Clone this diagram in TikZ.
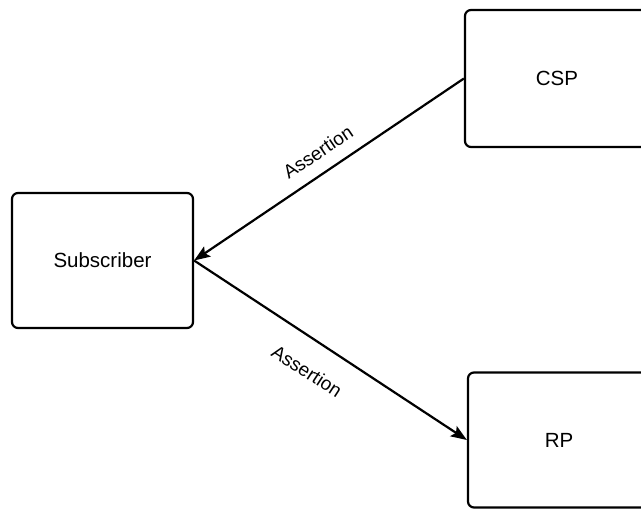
\documentclass[tikz,border=0pt]{standalone}
\usepackage{fontspec}
\setmainfont{Liberation Sans}
\usetikzlibrary{arrows.meta}
\begin{document}
\begin{tikzpicture}[x=1pt,y=-1pt,
  party/.style={draw=black, line width=2.2pt, rounded corners=6pt, fill=white,
    font=\fontsize{20.5}{24}\selectfont, inner sep=0pt},
  flow/.style={line width=2.2pt, -{Stealth[length=16pt,width=12pt,inset=3pt]}},
  flowlabel/.style={font=\fontsize{19}{22}\selectfont, inner sep=0pt}]
  \useasboundingbox (0,0) rectangle (641,510);
  \clip (0,0) rectangle (641,510);
  % the three parties
  \node[party, minimum width=181pt, minimum height=135pt] (sub) at (102.5,260.5) {Subscriber};
  \node[party, minimum width=184pt, minimum height=137pt] (csp) at (557,78.5) {CSP};
  \node[party, minimum width=182pt, minimum height=135pt] (rp) at (559,440) {RP};
  % assertion flows
  \draw[flow] (csp.west) -- (sub.east);
  \draw[flow] (sub.east) -- (rp.west);
  \node[flowlabel, rotate=34] (lab1) at (318,152) {Assertion};
  \node[flowlabel, rotate=-33] (lab2) at (307,371) {Assertion};
\end{tikzpicture}
\end{document}
